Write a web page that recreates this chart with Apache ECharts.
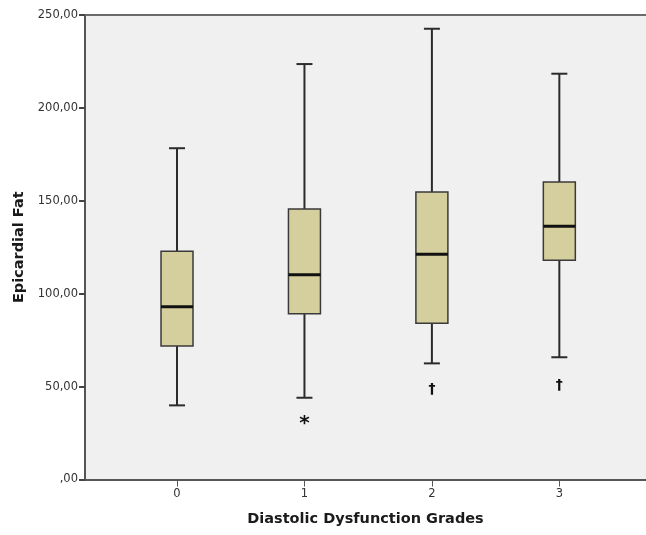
<!DOCTYPE html>
<html><head><meta charset="utf-8">
<script src="https://cdn.jsdelivr.net/npm/echarts@6/dist/echarts.min.js"></script>
<style>html,body{margin:0;padding:0;background:#fff}#c{width:646px;height:535px}</style>
</head><body><div id="c"></div>
<script>
// Data
var categories = [0, 1, 2, 3];
var whiskerLow  = [39.9, 44.0, 62.5, 65.8];
var q1Values    = [71.9, 89.2, 84.1, 118.0];
var medians     = [93.0, 110.2, 121.2, 136.3];
var q3Values    = [122.8, 145.6, 154.7, 160.1];
var whiskerHigh = [178.3, 223.6, 242.6, 218.4];
var outlierX     = [1, 2, 3];
var outlierY     = [30.2, 48.5, 50.9];
var outlierMarks = ['*', '†', '†'];
var yTicks = [0, 50, 100, 150, 200, 250];

var boxData = categories.map(function (c, i) {
  return [c, whiskerLow[i], q1Values[i], medians[i], q3Values[i], whiskerHigh[i]];
});
var outlierData = outlierX.map(function (x, i) { return [x, outlierY[i], outlierMarks[i]]; });

var lineColor = '#2b2b2b';
var chart = echarts.init(document.getElementById('c'));
chart.setOption({
  animation: false,
  grid: { left: 85, right: 0, top: 15, bottom: 55.5, show: true, backgroundColor: '#F0F0F0', borderWidth: 0,
          containLabel: false, outerBoundsMode: 'none' },
  xAxis: [{
    type: 'value', min: -0.722, max: 3.68,
    name: 'Diastolic Dysfunction Grades', nameLocation: 'middle', nameGap: 32,
    nameTextStyle: { fontFamily: 'DejaVu Sans', fontWeight: 'bold', fontSize: 14.5, color: '#1a1a1a' },
    axisLine: { show: true, onZero: false, lineStyle: { color: '#555', width: 2 } },
    axisTick: { show: true, customValues: categories, length: 7, lineStyle: { color: '#555', width: 1 } },
    axisLabel: { show: true, customValues: categories, margin: 9, fontFamily: 'DejaVu Sans', fontSize: 11.5, color: '#333' },
    splitLine: { show: false }
  }, {
    type: 'value', position: 'top', min: -0.722, max: 3.68,
    axisLine: { show: true, onZero: false, lineStyle: { color: '#6a6a6a', width: 2 } },
    axisTick: { show: false }, axisLabel: { show: false }, splitLine: { show: false }
  }],
  yAxis: {
    type: 'value', min: 0, max: 250, interval: 50,
    name: 'Epicardial Fat', nameLocation: 'middle', nameGap: 56,
    nameTextStyle: { fontFamily: 'DejaVu Sans', fontWeight: 'bold', fontSize: 14.5, color: '#1a1a1a' },
    axisLine: { show: true, onZero: false, lineStyle: { color: '#555', width: 2 } },
    axisTick: { show: true, length: 6, lineStyle: { color: '#444', width: 2 } },
    axisLabel: { margin: 7, fontFamily: 'DejaVu Sans', fontSize: 11.5, color: '#333',
      formatter: function (v) { return v === 0 ? ',00' : v.toFixed(2).replace('.', ','); } },
    splitLine: { show: false }
  },
  series: [{
    type: 'custom',
    data: boxData,
    encode: { x: 0, y: [1, 2, 3, 4, 5] },
    renderItem: function (params, api) {
      var x = api.value(0);
      var pLow = api.coord([x, api.value(1)]);
      var pQ1 = api.coord([x, api.value(2)]);
      var pMed = api.coord([x, api.value(3)]);
      var pQ3 = api.coord([x, api.value(4)]);
      var pHigh = api.coord([x, api.value(5)]);
      var cx = pLow[0];
      var hw = 16, cap = 8;
      var ls = { stroke: lineColor, lineWidth: 2 };
      return {
        type: 'group',
        children: [
          { type: 'line', shape: { x1: cx, y1: pHigh[1], x2: cx, y2: pQ3[1] }, style: ls },
          { type: 'line', shape: { x1: cx, y1: pQ1[1], x2: cx, y2: pLow[1] }, style: ls },
          { type: 'line', shape: { x1: cx - cap, y1: pHigh[1], x2: cx + cap, y2: pHigh[1] }, style: ls },
          { type: 'line', shape: { x1: cx - cap, y1: pLow[1], x2: cx + cap, y2: pLow[1] }, style: ls },
          { type: 'rect', shape: { x: cx - hw, y: pQ3[1], width: hw * 2, height: pQ1[1] - pQ3[1] },
            style: { fill: '#D4CF9D', stroke: '#3a3a3a', lineWidth: 1.5 } },
          { type: 'line', shape: { x1: cx - hw, y1: pMed[1], x2: cx + hw, y2: pMed[1] },
            style: { stroke: '#111', lineWidth: 3 } }
        ]
      };
    }
  }, {
    type: 'custom',
    data: outlierData,
    encode: { x: 0, y: 1 },
    renderItem: function (params, api) {
      var p = api.coord([api.value(0), api.value(1)]);
      var mark = outlierMarks[params.dataIndex];
      return {
        type: 'text',
        x: p[0], y: p[1],
        style: { text: mark, fill: '#111', fontFamily: 'DejaVu Sans', fontWeight: 'bold',
          fontSize: mark === '*' ? 20 : 14, align: 'center', verticalAlign: 'middle' }
      };
    }
  }]
});
</script></body></html>
